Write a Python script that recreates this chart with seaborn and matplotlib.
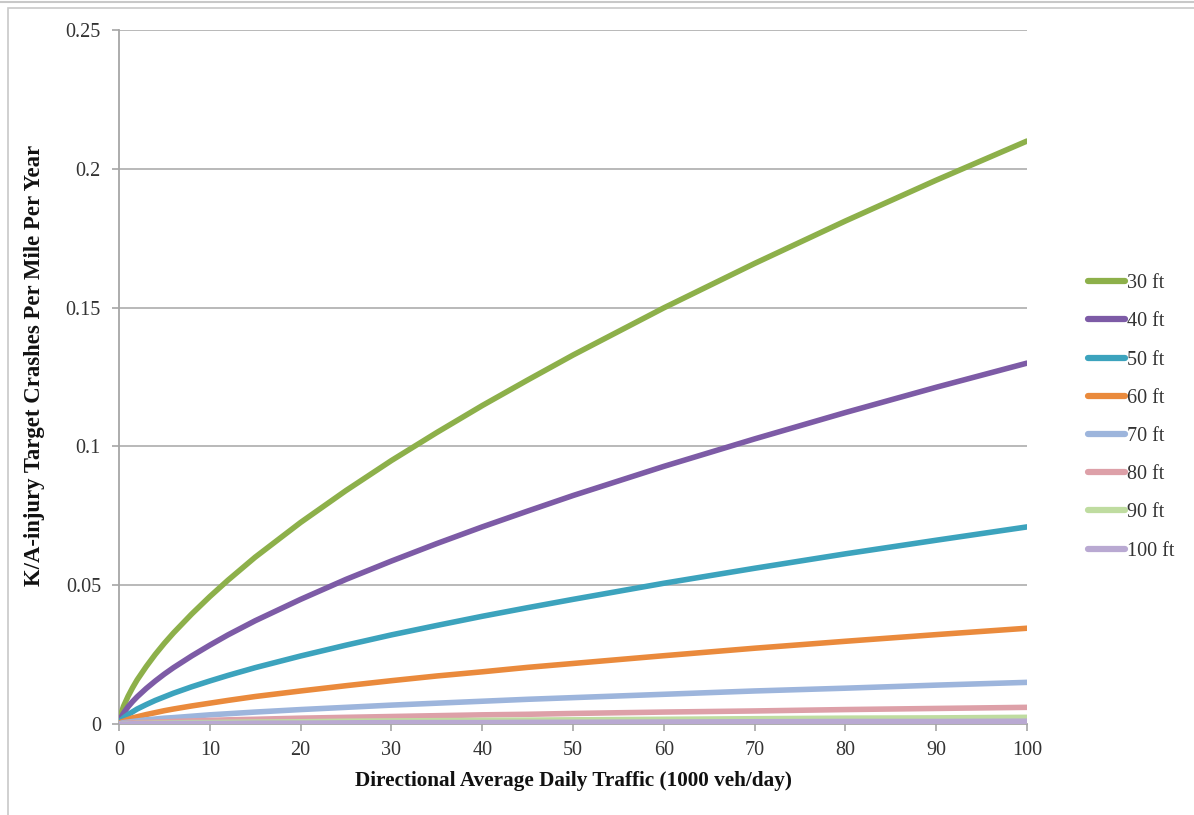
import matplotlib
matplotlib.use("Agg")
import matplotlib.pyplot as plt
import seaborn as sns
import pandas as pd
from matplotlib.patches import Rectangle
from matplotlib.lines import Line2D

traffic = [0, 0.25, 0.5, 1, 1.5, 2, 3, 4, 5, 6, 8, 10, 12, 15, 20, 25, 30, 35, 40, 45, 50, 60, 70, 80, 90, 100]
series_names = ["30 ft", "40 ft", "50 ft", "60 ft", "70 ft", "80 ft", "90 ft", "100 ft"]
ft30 = [0, 0.0040, 0.0064, 0.0100, 0.0131, 0.0159, 0.0207, 0.0251, 0.0291, 0.0328, 0.0396, 0.0459, 0.0518,
        0.0601, 0.0726, 0.0841, 0.0949, 0.1050, 0.1147, 0.1239, 0.1329, 0.1499, 0.1659, 0.1812, 0.1959, 0.2100]
ft40 = [0, 0.0025, 0.0039, 0.0062, 0.0081, 0.0098, 0.0128, 0.0155, 0.0180, 0.0203, 0.0245, 0.0284, 0.0321,
        0.0372, 0.0449, 0.0521, 0.0587, 0.0650, 0.0710, 0.0767, 0.0823, 0.0928, 0.1027, 0.1122, 0.1213, 0.1300]
ft50 = [0, 0.0014, 0.0022, 0.0034, 0.0044, 0.0054, 0.0070, 0.0085, 0.0098, 0.0111, 0.0134, 0.0155, 0.0175,
        0.0203, 0.0245, 0.0284, 0.0321, 0.0355, 0.0388, 0.0419, 0.0449, 0.0507, 0.0561, 0.0613, 0.0662, 0.0710]
ft60 = [0, 0.0007, 0.0010, 0.0016, 0.0022, 0.0026, 0.0034, 0.0041, 0.0048, 0.0054, 0.0065, 0.0075, 0.0085,
        0.0099, 0.0119, 0.0138, 0.0156, 0.0173, 0.0188, 0.0204, 0.0218, 0.0246, 0.0273, 0.0298, 0.0322, 0.0345]
ft70 = [0, 0.0003, 0.0005, 0.0007, 0.0009, 0.0011, 0.0015, 0.0018, 0.0021, 0.0023, 0.0028, 0.0033, 0.0037,
        0.0043, 0.0052, 0.0060, 0.0068, 0.0075, 0.0082, 0.0089, 0.0095, 0.0107, 0.0119, 0.0129, 0.0140, 0.0150]
ft80 = [0, 0.0001, 0.0002, 0.0003, 0.0004, 0.0005, 0.0006, 0.0007, 0.0008, 0.0009, 0.0011, 0.0013, 0.0015,
        0.0017, 0.0021, 0.0024, 0.0027, 0.0030, 0.0033, 0.0035, 0.0038, 0.0043, 0.0047, 0.0052, 0.0056, 0.0060]
ft90 = [0, 0.0000, 0.0001, 0.0001, 0.0001, 0.0002, 0.0002, 0.0003, 0.0003, 0.0004, 0.0005, 0.0005, 0.0006,
        0.0007, 0.0008, 0.0010, 0.0011, 0.0012, 0.0013, 0.0014, 0.0015, 0.0017, 0.0019, 0.0021, 0.0022, 0.0024]
ft100 = [0, 0.0000, 0.0000, 0.0000, 0.0001, 0.0001, 0.0001, 0.0001, 0.0001, 0.0002, 0.0002, 0.0002, 0.0002,
         0.0003, 0.0003, 0.0004, 0.0005, 0.0005, 0.0005, 0.0006, 0.0006, 0.0007, 0.0008, 0.0009, 0.0009, 0.0010]
x_ticks = [0, 10, 20, 30, 40, 50, 60, 70, 80, 90, 100]
y_ticks = [0, 0.05, 0.1, 0.15, 0.2, 0.25]
y_tick_labels = ["0", "0.05", "0.1", "0.15", "0.2", "0.25"]

colors = ["#8DB04A", "#7D5BA6", "#3CA3BD", "#EA8A3C", "#9DB5DC", "#DDA0A8", "#BFDCA0", "#B9A9D2"]

all_series = [ft30, ft40, ft50, ft60, ft70, ft80, ft90, ft100]
rows = []
for name, vals in zip(series_names, all_series):
    for x, y in zip(traffic, vals):
        rows.append({"traffic": x, "crashes": y, "width": name})
df = pd.DataFrame(rows)

sns.set_style("white")
plt.rcParams["font.family"] = ["Liberation Serif", "DejaVu Serif"]

fig = plt.figure(figsize=(11.94, 8.15), dpi=100)
ax = fig.add_axes([119 / 1194, 91 / 815, (1027 - 119) / 1194, (724 - 30) / 815])

sns.lineplot(data=df, x="traffic", y="crashes", hue="width", hue_order=series_names,
             palette=colors, linewidth=4.0, ax=ax, legend=False, zorder=3)
for ln in ax.get_lines():
    ln.set_solid_joinstyle("round")
    ln.set_solid_capstyle("round")

ax.set_xlim(0, 100)
ax.set_ylim(0, 0.25)
ax.set_xticks(x_ticks)
ax.set_xticklabels([str(t) for t in x_ticks])
ax.set_yticks(y_ticks)
ax.set_yticklabels(y_tick_labels)
ax.yaxis.grid(True, color="#B3B3B3", linewidth=1.3)
ax.xaxis.grid(False)
for s in ["top", "right"]:
    ax.spines[s].set_visible(False)
for s in ["left", "bottom"]:
    ax.spines[s].set_color("#A6A6A6")
    ax.spines[s].set_linewidth(1.3)
ax.tick_params(axis="both", which="both", direction="out", length=5, width=1.2,
               color="#A6A6A6", labelsize=14.5, labelcolor="#333333", pad=8)
ax.tick_params(axis="x", pad=7)
ax.tick_params(left=True, bottom=True)

ax.set_xlabel("Directional Average Daily Traffic (1000 veh/day)", fontsize=15.3,
              fontweight="bold", labelpad=8, color="#111111")
ax.set_ylabel("K/A-injury Target Crashes Per Mile Per Year", fontsize=16.4,
              fontweight="bold", color="#111111")
ax.yaxis.set_label_coords((45 - 119) / 908, (724 - 365) / 694)

handles = [Line2D([0], [0], color=c, linewidth=4.5, solid_capstyle="round") for c in colors]
leg = fig.legend(handles, series_names, loc="upper left", bbox_to_anchor=(1088 / 1194, 1 - 274 / 815),
                 frameon=False, fontsize=14.5, handlelength=1.85, handletextpad=0.1,
                 labelspacing=0.95, borderaxespad=0, borderpad=0)
for t in leg.get_texts():
    t.set_color("#333333")

# outer chart-area border
fig.patches.append(Rectangle((8 / 1194, -0.01), 1.2, 1 - 8 / 815 + 0.01, transform=fig.transFigure,
                             fill=False, edgecolor="#C8C8C8", linewidth=1.2))
fig.add_artist(Line2D([0, 1], [1 - 2 / 815, 1 - 2 / 815], transform=fig.transFigure,
                      color="#C8C8C8", linewidth=1.5))

fig.savefig("out.png", dpi=100, facecolor="white")
